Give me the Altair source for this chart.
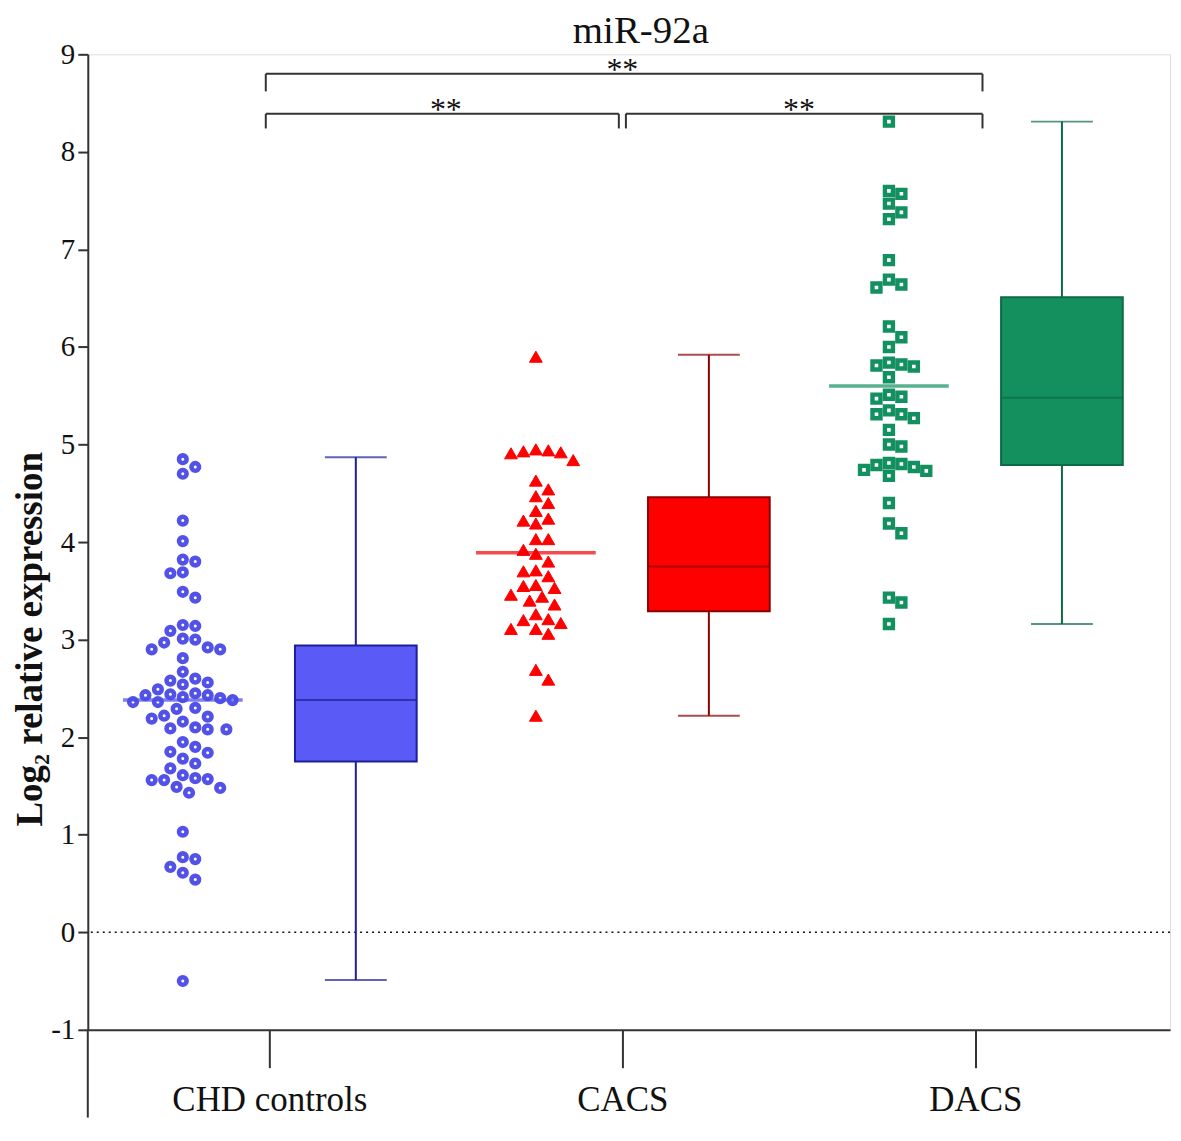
import altair as alt
import pandas as pd

# ---------------- data ----------------
groups = ["CHD controls", "CACS", "DACS"]
group_pos = [1, 2, 3]

chd = [4.85, 4.77, 4.70, 4.22, 4.01, 3.80, 3.82, 3.68, 3.69, 3.49, 3.43, 3.15, 3.09,
       3.14, 3.01, 2.97, 2.90, 2.90, 2.92, 3.00, 2.81, 2.67, 2.58, 2.60, 2.54, 2.49,
       2.56, 2.45, 2.44, 2.41, 2.38, 2.36, 2.43, 2.36, 2.40, 2.43, 2.29, 2.30, 2.21,
       2.19, 2.22, 2.16, 2.10, 2.08, 2.08, 2.09, 1.95, 1.84, 1.90, 1.85, 1.78, 1.73,
       1.68, 1.61, 1.58, 1.56, 1.56, 1.57, 1.49, 1.48, 1.43, 1.03, 0.75, 0.77, 0.67,
       0.61, 0.54, -0.50]
cacs = [5.90, 4.94, 4.91, 4.92, 4.93, 4.95, 4.84, 4.63, 4.54, 4.47, 4.40, 4.32, 4.24,
        4.22, 4.19, 4.03, 4.03, 3.92, 3.88, 3.80, 3.70, 3.71, 3.65, 3.55, 3.53, 3.56,
        3.46, 3.44, 3.36, 3.40, 3.26, 3.21, 3.20, 3.17, 3.11, 3.11, 3.06, 2.69, 2.59,
        2.22]
dacs = [8.31, 7.57, 7.60, 7.47, 7.38, 7.31, 6.89, 6.69, 6.61, 6.64, 6.21, 6.10, 6.00,
        5.80, 5.84, 5.81, 5.82, 5.69, 5.49, 5.47, 5.51, 5.35, 5.27, 5.31, 5.31, 5.15,
        4.98, 5.00, 4.80, 4.77, 4.81, 4.73, 4.74, 4.79, 4.68, 4.40, 4.19, 4.09, 3.43,
        3.38, 3.16]

means = [2.38, 3.89, 5.60]
box_min = [-0.49, 2.22, 3.16]
box_q1 = [1.75, 3.29, 4.79]
box_med = [2.38, 3.75, 5.48]
box_q3 = [2.94, 4.46, 6.51]
box_max = [4.87, 5.92, 8.31]

# significance brackets
br_x1 = [0.99, 0.99, 2.01]
br_x2 = [3.02, 1.99, 3.02]
br_top = [8.80, 8.39, 8.39]
br_bottom = [8.62, 8.24, 8.24]
star_x = [2.0, 1.5, 2.5]
star_label = ["**", "**", "**"]

# ---------------- style ----------------
W, H = 1085, 978
XDOM = [0.5, 3.537]
YDOM = [-1, 9]
PX_X = W / (XDOM[1] - XDOM[0])
PX_Y = H / (YDOM[1] - YDOM[0])
SCAT_OFF = -0.245
BOX_OFF = 0.245
point_color = ["#5252e8", "#ff0000", "#129060"]
box_fill = ["#5a5af6", "#ff0000", "#14905f"]
box_line = ["#1e1e9a", "#8b0000", "#0c6a44"]
mean_color = ["#4a4ae6", "#f00000", "#119060"]
FONT = "Liberation Serif"
AX = "#333333"


def swarm(values, diam=12.6, step=6.3):
    placed = []
    offs = [0.0] * len(values)
    order = sorted(range(len(values)), key=lambda i: -values[i])
    cands = [0.0]
    for j in range(1, 30):
        cands += [j * step, -j * step]
    for i in order:
        y = values[i] * PX_Y
        chosen = cands[-1]
        for c in cands:
            if all((c - px) ** 2 + (y - py) ** 2 >= diam ** 2 for px, py in placed):
                chosen = c
                break
        placed.append((chosen, y))
        offs[i] = chosen / PX_X
    return offs


rows = []
for g, pos, vals in zip(groups, group_pos, [chd, cacs, dacs]):
    offs = swarm(vals)
    for v, o in zip(vals, offs):
        rows.append({"group": g, "x": pos + SCAT_OFF + o, "value": v})
pts = pd.DataFrame(rows)

box = pd.DataFrame({
    "group": groups,
    "bx": [p + BOX_OFF for p in group_pos],
    "sx": [p + SCAT_OFF for p in group_pos],
    "mn": box_min, "q1": box_q1, "med": box_med, "q3": box_q3, "mx": box_max,
    "mean": means, "fill": box_fill, "line": box_line, "pc": mean_color,
})
br = pd.DataFrame({"x1": br_x1, "x2": br_x2, "yt": br_top, "yb": br_bottom})
stars = pd.DataFrame({"x": star_x, "y": br_top, "t": star_label})
zero = pd.DataFrame({"y": [0]})

xscale = alt.Scale(domain=XDOM, nice=False, zero=False)
yscale = alt.Scale(domain=YDOM, nice=False, zero=False)
label_expr = ("datum.value == 1 ? 'CHD controls' : datum.value == 2 ? 'CACS' : "
              "datum.value == 3 ? 'DACS' : ''")
xaxis = alt.Axis(values=group_pos, labelExpr=label_expr, tickSize=38, tickWidth=2,
                 tickColor=AX, domainColor=AX, domainWidth=2, labelFont=FONT,
                 labelFontSize=35, labelColor="#111", labelPadding=15, labelLimit=0,
                 grid=False, title=None)
yaxis = alt.Axis(values=list(range(-1, 10)), labelExpr="'' + datum.value",
                 tickSize=10, tickWidth=2, tickColor=AX,
                 domainColor=AX, domainWidth=2, labelFont=FONT, labelFontSize=29,
                 labelColor="#111", labelPadding=3, grid=False,
                 title="Log₂ relative expression", titleFont=FONT, titleFontSize=37,
                 titleFontWeight="bold", titleColor="#111", titlePadding=1,
                 titleY=586)

zero_line = alt.Chart(zero).mark_rule(color="#111", strokeWidth=1.6,
                                      strokeDash=[2, 4]).encode(
    y=alt.Y("y:Q", scale=yscale, axis=yaxis))

br_h = alt.Chart(br).mark_rule(color=AX, strokeWidth=2).encode(
    x=alt.X("x1:Q", scale=xscale, axis=xaxis), x2="x2:Q",
    y=alt.Y("yt:Q", scale=yscale, axis=yaxis))
br_l = alt.Chart(br).mark_rule(color=AX, strokeWidth=2).encode(
    x=alt.X("x1:Q", scale=xscale), y=alt.Y("yt:Q", scale=yscale), y2="yb:Q")
br_r = alt.Chart(br).mark_rule(color=AX, strokeWidth=2).encode(
    x=alt.X("x2:Q", scale=xscale), y=alt.Y("yt:Q", scale=yscale), y2="yb:Q")
star_txt = alt.Chart(stars).mark_text(font=FONT, fontSize=32, baseline="middle",
                                      dy=-4, color="#111").encode(
    x=alt.X("x:Q", scale=xscale), y=alt.Y("y:Q", scale=yscale), text="t:N")

whisk_lo = alt.Chart(box).mark_rule(strokeWidth=2).encode(
    x=alt.X("bx:Q", scale=xscale), y=alt.Y("mn:Q", scale=yscale), y2="q1:Q",
    color=alt.Color("line:N", scale=None))
whisk_hi = alt.Chart(box).mark_rule(strokeWidth=2).encode(
    x=alt.X("bx:Q", scale=xscale), y=alt.Y("q3:Q", scale=yscale), y2="mx:Q",
    color=alt.Color("line:N", scale=None))
cap_lo = alt.Chart(box).mark_tick(orient="horizontal", size=62, thickness=2).encode(
    x=alt.X("bx:Q", scale=xscale), y=alt.Y("mn:Q", scale=yscale),
    color=alt.Color("line:N", scale=None))
cap_hi = alt.Chart(box).mark_tick(orient="horizontal", size=62, thickness=2).encode(
    x=alt.X("bx:Q", scale=xscale), y=alt.Y("mx:Q", scale=yscale),
    color=alt.Color("line:N", scale=None))
bars = alt.Chart(box).mark_bar(size=122, strokeWidth=2).encode(
    x=alt.X("bx:Q", scale=xscale), y=alt.Y("q1:Q", scale=yscale), y2="q3:Q",
    fill=alt.Fill("fill:N", scale=None), stroke=alt.Stroke("line:N", scale=None))
med = alt.Chart(box).mark_tick(orient="horizontal", size=122, thickness=2).encode(
    x=alt.X("bx:Q", scale=xscale), y=alt.Y("med:Q", scale=yscale),
    color=alt.Color("line:N", scale=None))

p_chd = alt.Chart(pts[pts.group == groups[0]]).mark_point(
    shape="circle", filled=False, size=58, strokeWidth=4.6, color=point_color[0],
    opacity=1).encode(x=alt.X("x:Q", scale=xscale), y=alt.Y("value:Q", scale=yscale))
p_cacs = alt.Chart(pts[pts.group == groups[1]]).mark_point(
    shape="triangle-up", filled=True, size=165, color=point_color[1], opacity=1,
    stroke=point_color[1], strokeWidth=1).encode(
    x=alt.X("x:Q", scale=xscale), y=alt.Y("value:Q", scale=yscale))
p_dacs = alt.Chart(pts[pts.group == groups[2]]).mark_point(
    shape="square", filled=False, size=64, strokeWidth=4.4, color=point_color[2],
    opacity=1).encode(x=alt.X("x:Q", scale=xscale), y=alt.Y("value:Q", scale=yscale))

mean_tick = alt.Chart(box).mark_tick(orient="horizontal", size=120, thickness=3.5).encode(
    x=alt.X("sx:Q", scale=xscale), y=alt.Y("mean:Q", scale=yscale),
    color=alt.Color("pc:N", scale=None))

y_ext = alt.Chart(zero).mark_rule(color=AX, strokeWidth=2).encode(
    x=alt.value(0), y=alt.value(H), y2=alt.value(H + 88))

chart = alt.layer(
    zero_line, br_h, br_l, br_r, star_txt,
    whisk_lo, whisk_hi, cap_lo, cap_hi, bars, med,
    p_chd, p_cacs, p_dacs, mean_tick, y_ext,
).properties(
    width=W, height=H,
    title=alt.TitleParams("miR-92a", font=FONT, fontSize=39, fontWeight="normal",
                          color="#111", anchor="middle", offset=-11, dx=12),
    padding={"left": 3, "top": 3, "right": 2, "bottom": 2},
).configure_view(stroke=None).configure(background="white")

chart.save("out.html", embed_options={"renderer": "svg", "actions": False})
